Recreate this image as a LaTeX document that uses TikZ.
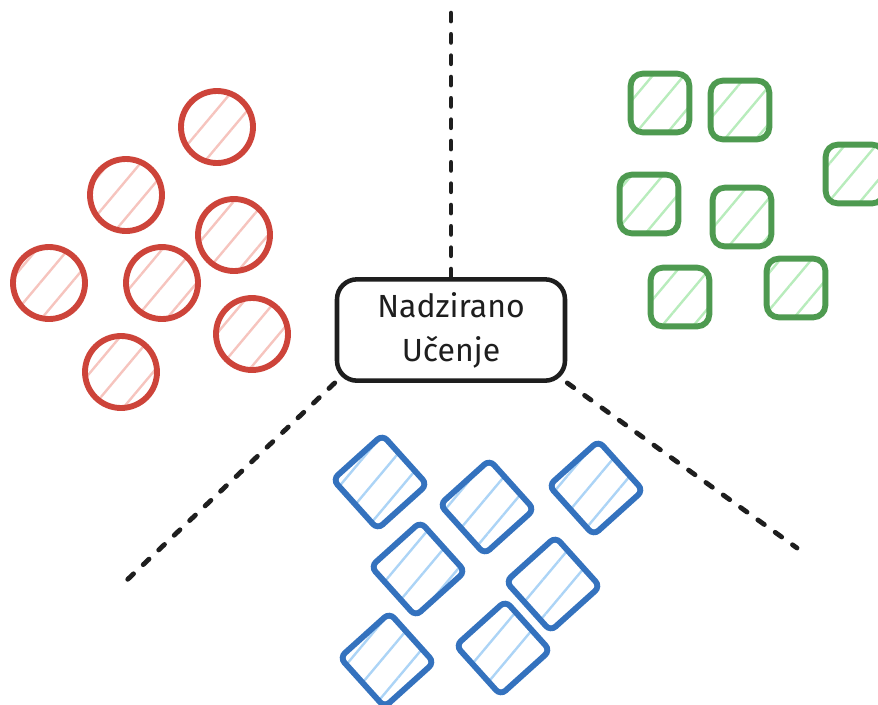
\documentclass[tikz,border=0pt]{standalone}
\usepackage{fontspec}
\setmainfont{Fira Sans}
\usetikzlibrary{patterns.meta}
\definecolor{redline}{RGB}{205,68,58}
\definecolor{redhatch}{RGB}{246,196,190}
\definecolor{greenline}{RGB}{78,154,80}
\definecolor{greenhatch}{RGB}{184,236,188}
\definecolor{blueline}{RGB}{52,114,190}
\definecolor{bluehatch}{RGB}{172,212,246}
\definecolor{ink}{RGB}{30,30,30}
\tikzset{
  hatch/.style={pattern={Lines[angle=50,distance=18pt,line width=1.8pt]}, pattern color=#1},
  blob/.style={circle, draw=redline, line width=4.4pt, minimum size=54pt, inner sep=0pt, hatch=redhatch},
  tile/.style={rectangle, rounded corners=9pt, draw=greenline, line width=4.4pt,
               minimum size=44pt, inner sep=0pt, hatch=greenhatch},
  chip/.style={rectangle, rounded corners=5pt, draw=blueline, line width=4.4pt,
               minimum size=50pt, inner sep=0pt, rotate=42, hatch=bluehatch},
  topic/.style={rectangle, rounded corners=15pt, draw=ink, line width=3.4pt, fill=white,
                minimum width=171pt, minimum height=76pt, align=center, text=ink,
                font=\fontsize{24}{33}\selectfont},
  divider/.style={draw=ink, line width=3.6pt, line cap=round, dash pattern=on 6pt off 10pt}
}
\begin{document}
\begin{tikzpicture}[x=0.75pt, y=-0.75pt]
  \useasboundingbox (0,0) rectangle (878,704);
  \clip (0,0) rectangle (878,704);

  % Central topic
  \node (learn) [topic] at (451,330) {Nadzirano\\Učenje};

  % Ends of the dividing lines
  \coordinate (top)      at (451,10);
  \coordinate (lowleft)  at (127,580);
  \coordinate (lowright) at (797,548);

  \draw[divider] (learn.north) -- (top);
  \draw[divider] (learn.south west) -- (lowleft);
  \draw[divider] (learn.south east) -- (lowright);

  % Red circles
  \node (r1) [blob] at (217,127) {};
  \node (r2) [blob] at (126,195) {};
  \node (r3) [blob] at (234,235) {};
  \node (r4) [blob] at (49,283)  {};
  \node (r5) [blob] at (162,283) {};
  \node (r6) [blob] at (252,334) {};
  \node (r7) [blob] at (121,372) {};

  % Green squares
  \node (g1) [tile] at (660,103) {};
  \node (g2) [tile] at (740,110) {};
  \node (g3) [tile] at (855,174) {};
  \node (g4) [tile] at (649,204) {};
  \node (g5) [tile] at (742,217) {};
  \node (g6) [tile] at (680,297) {};
  \node (g7) [tile] at (796,288) {};

  % Blue diamonds
  \node (b1) [chip] at (380,482) {};
  \node (b2) [chip] at (487,507) {};
  \node (b3) [chip] at (596,488) {};
  \node (b4) [chip] at (418,569) {};
  \node (b5) [chip] at (553,584) {};
  \node (b6) [chip] at (387,660) {};
  \node (b7) [chip] at (503,648) {};
\end{tikzpicture}
\end{document}
